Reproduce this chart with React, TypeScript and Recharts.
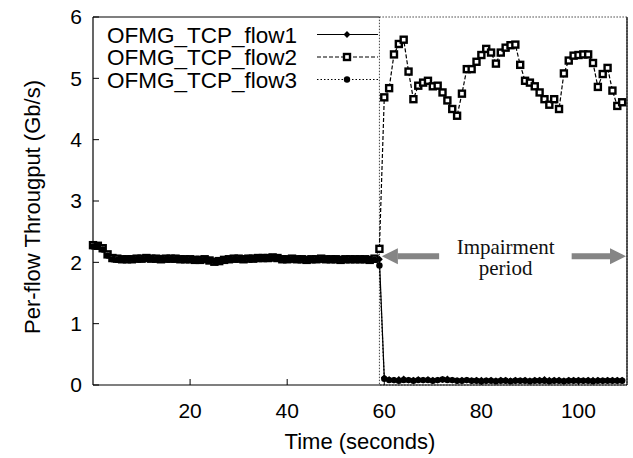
import React from 'react';
import { LineChart, Line, XAxis, YAxis, ReferenceLine, ReferenceArea, ReferenceDot, Legend } from 'recharts';

// per-flow throughput (Gb/s), one sample per second
const flow1Before = [
  2.27, 2.27, 2.22, 2.12, 2.06, 2.05, 2.05, 2.05, 2.06, 2.06,
  2.06, 2.06, 2.06, 2.05, 2.06, 2.06, 2.06, 2.05, 2.05, 2.05,
  2.04, 2.04, 2.05, 2.05, 2.04, 2.02, 2.03, 2.04, 2.05, 2.05,
  2.06, 2.06, 2.06, 2.07, 2.07, 2.06, 2.07, 2.07, 2.08, 2.06,
  2.05, 2.05, 2.05, 2.05, 2.05, 2.05, 2.05, 2.05, 2.05, 2.05,
  2.05, 2.05, 2.05, 2.05, 2.05, 2.04, 2.05, 2.05, 2.05, 2.05,
];
const flow1After = [
  0.12, 0.09, 0.08, 0.09, 0.10, 0.08, 0.08, 0.09, 0.08, 0.09,
  0.08, 0.08, 0.09, 0.10, 0.08, 0.07, 0.08, 0.08, 0.07, 0.08,
  0.08, 0.07, 0.08, 0.07, 0.08, 0.08, 0.07, 0.08, 0.07, 0.08,
  0.07, 0.08, 0.08, 0.09, 0.08, 0.08, 0.08, 0.07, 0.08, 0.08,
  0.08, 0.07, 0.08, 0.08, 0.08, 0.07, 0.08, 0.08, 0.08, 0.08,
];
const flow2Before = [
  2.28, 2.27, 2.23, 2.13, 2.07, 2.06, 2.05, 2.05, 2.05, 2.06,
  2.06, 2.07, 2.06, 2.06, 2.05, 2.06, 2.06, 2.06, 2.05, 2.05,
  2.05, 2.04, 2.04, 2.05, 2.03, 2.01, 2.02, 2.04, 2.05, 2.06,
  2.06, 2.05, 2.06, 2.06, 2.07, 2.07, 2.07, 2.08, 2.07, 2.05,
  2.05, 2.06, 2.05, 2.05, 2.04, 2.05, 2.05, 2.06, 2.05, 2.05,
  2.05, 2.04, 2.05, 2.05, 2.05, 2.05, 2.05, 2.04, 2.06, 2.22,
];
const flow2After = [
  4.69, 4.84, 5.39, 5.56, 5.63, 5.11, 4.66, 4.88, 4.93, 4.96,
  4.87, 4.88, 4.77, 4.64, 4.50, 4.39, 4.75, 5.15, 5.15, 5.27,
  5.38, 5.48, 5.42, 5.24, 5.42, 5.50, 5.54, 5.55, 5.22, 4.96,
  4.93, 4.87, 4.77, 4.66, 4.57, 4.66, 4.50, 5.08, 5.29, 5.37,
  5.38, 5.39, 5.39, 5.25, 4.86, 5.07, 5.17, 4.80, 4.55, 4.61,
];
const flow3Before = [
  2.26, 2.26, 2.21, 2.11, 2.05, 2.04, 2.05, 2.06, 2.06, 2.05,
  2.05, 2.06, 2.06, 2.05, 2.06, 2.05, 2.05, 2.05, 2.06, 2.05,
  2.04, 2.05, 2.04, 2.04, 2.03, 2.02, 2.03, 2.03, 2.04, 2.05,
  2.05, 2.06, 2.07, 2.06, 2.06, 2.07, 2.08, 2.07, 2.07, 2.06,
  2.05, 2.05, 2.05, 2.06, 2.05, 2.05, 2.04, 2.05, 2.05, 2.05,
  2.06, 2.05, 2.05, 2.04, 2.05, 2.05, 2.05, 2.05, 2.04, 1.95,
];
const flow3After = [
  0.10, 0.08, 0.08, 0.07, 0.08, 0.08, 0.07, 0.08, 0.08, 0.08,
  0.07, 0.08, 0.09, 0.08, 0.08, 0.07, 0.07, 0.08, 0.07, 0.07,
  0.06, 0.07, 0.07, 0.06, 0.07, 0.07, 0.06, 0.07, 0.07, 0.07,
  0.06, 0.07, 0.07, 0.07, 0.06, 0.07, 0.07, 0.06, 0.07, 0.07,
  0.07, 0.07, 0.07, 0.06, 0.07, 0.07, 0.07, 0.07, 0.07, 0.07,
];

const xTicks = [20, 40, 60, 80, 100];
const yTicks = [0, 1, 2, 3, 4, 5, 6];
const seriesNames = ['OFMG_TCP_flow1', 'OFMG_TCP_flow2', 'OFMG_TCP_flow3'];
const impairmentStart = 59;
const timeEnd = 110;

const flow1 = flow1Before.concat(flow1After);
const flow2 = flow2Before.concat(flow2After);
const flow3 = flow3Before.concat(flow3After);
const data = flow1.map((v, i) => ({ t: i, f1: v, f2: flow2[i], f3: flow3[i] }));

const SANS = '"Liberation Sans", Arial, sans-serif';
const SERIF = '"Liberation Serif", "Times New Roman", serif';

const DiamondDot = (p: any) => {
  const { cx, cy } = p;
  if (cx == null || cy == null) return <g key={p.index} />;
  return <path key={p.index} d={`M${cx},${cy - 3.4}L${cx + 3.4},${cy}L${cx},${cy + 3.4}L${cx - 3.4},${cy}Z`} fill="#000" />;
};
const SquareDot = (p: any) => {
  const { cx, cy } = p;
  if (cx == null || cy == null) return <g key={p.index} />;
  return <rect key={p.index} x={cx - 3} y={cy - 3} width={6} height={6} fill="#fff" stroke="#000" strokeWidth={2.4} />;
};
const CircleDot = (p: any) => {
  const { cx, cy } = p;
  if (cx == null || cy == null) return <g key={p.index} />;
  return <circle key={p.index} cx={cx} cy={cy} r={3.2} fill="#000" />;
};

const Arrow = (p: any) => {
  const { x1, y1, x2, y2 } = p;
  const dir = x2 > x1 ? 1 : -1;
  const head = 16;
  return (
    <g>
      <line x1={x1} y1={y1} x2={x2 - dir * head} y2={y2} stroke="#858585" strokeWidth={6} />
      <polygon points={`${x2},${y2} ${x2 - dir * head},${y2 - 8} ${x2 - dir * head},${y2 + 8}`} fill="#858585" />
    </g>
  );
};

const ImpairmentText = (p: any) => (
  <g fontFamily={SERIF} fontSize={21} fill="#111" textAnchor="middle">
    <text x={p.cx} y={p.cy - 2}>Impairment</text>
    <text x={p.cx} y={p.cy + 19}>period</text>
  </g>
);

const LegendBox = () => {
  const rows = [34.5, 57, 79.5];
  return (
    <svg width={633} height={100} style={{ display: 'block' }}>
      {seriesNames.map((name, i) => (
        <g key={name}>
          <text x={107} y={rows[i] + 8} fontFamily={SANS} fontSize={22.5} fill="#000">{name}</text>
          <line x1={317} x2={378} y1={rows[i]} y2={rows[i]} stroke="#000" strokeWidth={1.2}
            strokeDasharray={i === 0 ? undefined : i === 1 ? '4 2' : '1.5 2'} />
          {i === 0 && <DiamondDot cx={347} cy={rows[i]} />}
          {i === 1 && <SquareDot cx={347} cy={rows[i]} />}
          {i === 2 && <CircleDot cx={347} cy={rows[i]} />}
        </g>
      ))}
    </svg>
  );
};

export default function App() {
  return (
    <div style={{ position: 'absolute', left: 0, top: 0, width: 633, height: 458, background: '#fff' }}>
      <LineChart width={633} height={458} data={data} margin={{ top: 17, right: 6, left: 0, bottom: 0 }}>
        <XAxis
          dataKey="t"
          type="number"
          domain={[0, timeEnd]}
          ticks={xTicks}
          height={73}
          tickSize={-6}
          tickMargin={24}
          axisLine={{ stroke: '#000', strokeWidth: 1.2 }}
          tickLine={{ stroke: '#000' }}
          tick={{ fill: '#000', fontSize: 21, fontFamily: SANS }}
          label={{
            content: (lp: any) => {
              const vb = lp.viewBox;
              return (
                <text x={vb.x + vb.width / 2} y={vb.y + 64} textAnchor="middle" fontFamily={SANS} fontSize={22} fill="#000">
                  Time (seconds)
                </text>
              );
            },
          }}
        />
        <YAxis
          type="number"
          domain={[0, 6]}
          ticks={yTicks}
          width={93}
          tickSize={-6}
          tickMargin={17}
          axisLine={{ stroke: '#000', strokeWidth: 1.2 }}
          tickLine={{ stroke: '#000' }}
          tick={{ fill: '#000', fontSize: 21, fontFamily: SANS }}
          label={{
            content: (lp: any) => {
              const vb = lp.viewBox;
              const cy = vb.y + vb.height / 2 + 6;
              return (
                <text x={40} y={cy} transform={`rotate(-90 40 ${cy})`} textAnchor="middle" fontFamily={SANS} fontSize={22} fill="#000">
                  Per-flow Througput (Gb/s)
                </text>
              );
            },
          }}
        />
        <ReferenceLine segment={[{ x: 0, y: 6 }, { x: impairmentStart, y: 6 }]} stroke="#000" strokeWidth={1.2} />
        <ReferenceArea x1={impairmentStart} x2={timeEnd} y1={0} y2={6} fill="none" stroke="#444" strokeDasharray="1.5 1.5" />
        <ReferenceLine x={timeEnd} stroke="#000" strokeWidth={1.2} />
        <Line dataKey="f1" type="linear" stroke="#000" strokeWidth={1.2} dot={DiamondDot} isAnimationActive={false} />
        <Line dataKey="f2" type="linear" stroke="#000" strokeWidth={1.2} strokeDasharray="4 2" dot={SquareDot} isAnimationActive={false} />
        <Line dataKey="f3" type="linear" stroke="#000" strokeWidth={1.2} strokeDasharray="1.5 2" dot={CircleDot} isAnimationActive={false} />
        <ReferenceLine segment={[{ x: 71.3, y: 2.1 }, { x: 59.5, y: 2.1 }]} shape={Arrow} />
        <ReferenceLine segment={[{ x: 98.6, y: 2.1 }, { x: 109.8, y: 2.1 }]} shape={Arrow} />
        <ReferenceDot x={85} y={2.1} r={0} shape={ImpairmentText} />
        <Legend
          layout="horizontal"
          verticalAlign="middle"
          align="center"
          wrapperStyle={{ position: 'absolute', left: 0, top: 0, width: 633, height: 100 }}
          content={() => <LegendBox />}
        />
      </LineChart>
    </div>
  );
}
